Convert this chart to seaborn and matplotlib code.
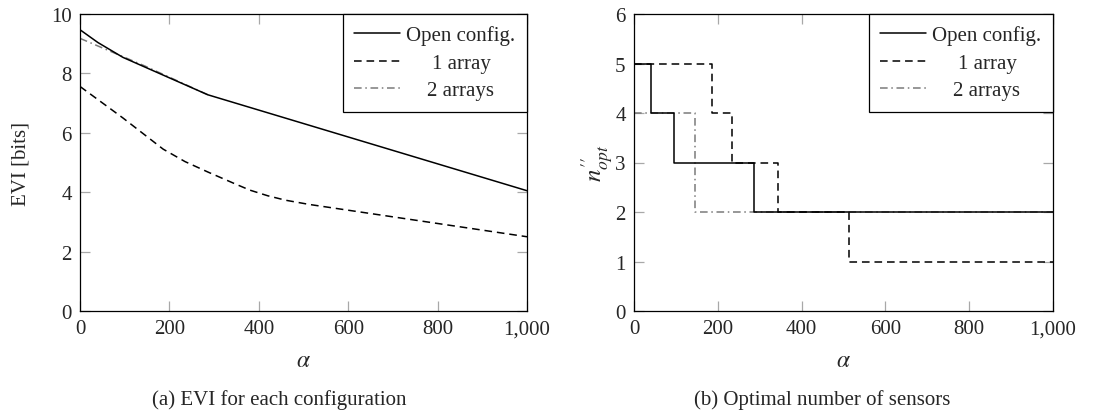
import numpy as np
import pandas as pd
import matplotlib
matplotlib.use("Agg")
import matplotlib.pyplot as plt
from matplotlib.ticker import FuncFormatter
import seaborn as sns

# ---- data -------------------------------------------------------------
series_names = ["Open config.", "1 array", "2 arrays"]

# EVI [bits] as a function of alpha
evi_open_alpha = [0, 40, 96, 286, 1000]
evi_open_value = [9.47, 9.04, 8.54, 7.28, 4.05]

evi_one_alpha = [0, 96, 186, 235, 286, 344, 380, 420, 460, 512, 1000]
evi_one_value = [7.56, 6.50, 5.45, 5.03, 4.68, 4.30, 4.07, 3.88, 3.73, 3.59, 2.50]

evi_two_alpha = [0, 145, 286]
evi_two_value = [9.18, 8.25, 7.28]

# optimal number of sensors (piecewise constant in alpha)
nopt_open_alpha = [0, 40, 96, 286, 1000]
nopt_open_value = [5, 4, 3, 2, 2]

nopt_one_alpha = [0, 186, 235, 344, 512, 1000]
nopt_one_value = [5, 4, 3, 2, 1, 1]

nopt_two_alpha = [0, 145, 1000]
nopt_two_value = [4, 2, 2]

x_ticks = [0, 200, 400, 600, 800, 1000]
evi_ticks = [0, 2, 4, 6, 8, 10]
nopt_ticks = [0, 1, 2, 3, 4, 5, 6]

captions = ["(a) EVI for each configuration", "(b) Optimal number of sensors"]

# ---- style ------------------------------------------------------------
sns.set_style("ticks")
plt.rcParams["font.family"] = ["Liberation Serif", "DejaVu Serif"]
plt.rcParams["mathtext.fontset"] = "stix"
FS = 15
plt.rcParams["font.size"] = FS

W, H = 1118, 414
fig = plt.figure(figsize=(W / 100, H / 100), dpi=100)


def px_axes(x0, y0, x1, y1):
    return fig.add_axes([x0 / W, 1 - y1 / H, (x1 - x0) / W, (y1 - y0) / H])


ax1 = px_axes(80, 15, 527, 312)
ax2 = px_axes(634, 15, 1053, 312)

styles = {
    "Open config.": dict(color="black", linestyle="-", zorder=4),
    "1 array": dict(color="black", linestyle=(0, (5, 3.2)), zorder=3),
    "2 arrays": dict(color="#7a7a7a", linestyle=(0, (5, 2.4, 1, 2.4)), zorder=2),
}


def make_frames(alpha_lists, value_lists):
    frames = []
    for name, a, v in zip(series_names, alpha_lists, value_lists):
        frames.append(pd.DataFrame({"alpha": a, "value": v, "config": name}))
    return frames


evi_frames = make_frames([evi_open_alpha, evi_one_alpha, evi_two_alpha],
                         [evi_open_value, evi_one_value, evi_two_value])
nopt_frames = make_frames([nopt_open_alpha, nopt_one_alpha, nopt_two_alpha],
                          [nopt_open_value, nopt_one_value, nopt_two_value])

for df in evi_frames:
    name = df["config"].iloc[0]
    sns.lineplot(data=df, x="alpha", y="value", ax=ax1, estimator=None,
                 sort=False, label=name, linewidth=1.1, **styles[name])

for df in nopt_frames:
    name = df["config"].iloc[0]
    sns.lineplot(data=df, x="alpha", y="value", ax=ax2, estimator=None,
                 sort=False, label=name, linewidth=1.1,
                 drawstyle="steps-post", **styles[name])

fmt = FuncFormatter(lambda v, p: f"{v:,.0f}")

for ax, yticks, ylabel, ysize in [(ax1, evi_ticks, "EVI [bits]", FS),
                                  (ax2, nopt_ticks, r"$n^{\prime\prime}_{opt}$", 18)]:
    ax.set_xlim(0, 1000)
    ax.set_ylim(yticks[0], yticks[-1])
    ax.set_xticks(x_ticks)
    ax.set_yticks(yticks)
    ax.xaxis.set_major_formatter(fmt)
    ax.tick_params(direction="in", length=7.5, width=0.9, color="#a8a8a8",
                   top=True, right=True, labelsize=FS, pad=6)
    for sp in ax.spines.values():
        sp.set_visible(True)
        sp.set_color("black")
        sp.set_linewidth(0.9)
    ax.set_xlabel(r"$\alpha$", fontsize=17)
    ax.set_ylabel(ylabel, fontsize=ysize)

# label placement
for ax in (ax1, ax2):
    ax.xaxis.set_label_coords(0.5, -(362 - 312) / 297)
    ax.xaxis.label.set_va("center")
ax1.yaxis.set_label_coords(-(80 - 21) / 447, 0.5)
ax1.yaxis.label.set_va("center")
ax2.yaxis.set_label_coords(-(634 - 597) / 419, 0.5)
ax2.yaxis.label.set_va("center")

# legends with centred entry text
renderer = fig.canvas.get_renderer()
for ax in (ax1, ax2):
    leg = ax.legend(loc="upper right", borderaxespad=0, frameon=True,
                    fancybox=False, edgecolor="black", fontsize=FS,
                    handlelength=2.2, handletextpad=0.3, borderpad=0.55,
                    labelspacing=0.38)
    leg.get_frame().set_linewidth(0.9)
    leg.get_frame().set_alpha(1)
    widths = [t.get_window_extent(renderer).width for t in leg.get_texts()]
    wmax = max(widths)
    for t, w in zip(leg.get_texts(), widths):
        t.set_x((wmax - w) / 2)

fig.text(279 / W, 1 - 400 / H, captions[0], ha="center", va="center", fontsize=FS)
fig.text(822 / W, 1 - 400 / H, captions[1], ha="center", va="center", fontsize=FS)

fig.savefig("out.png", dpi=100, facecolor="white")
